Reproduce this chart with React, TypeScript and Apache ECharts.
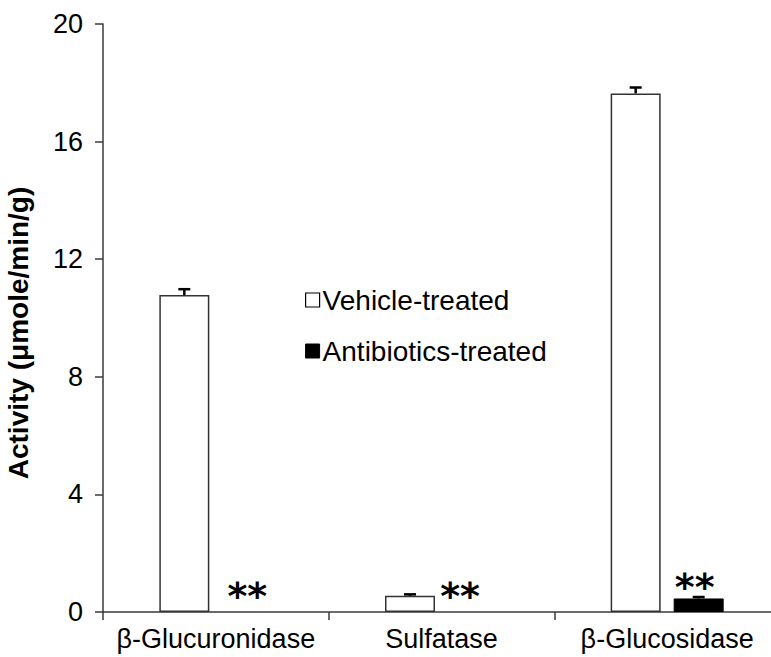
import React, { useEffect, useRef } from "react";
import * as echarts from "echarts";

const categories = ["β-Glucuronidase", "Sulfatase", "β-Glucosidase"];
const vehicleValues = [10.78, 0.55, 17.64];
const vehicleErrors = [0.2, 0.05, 0.2];
const antibioticValues = [0, 0, 0.46];
const antibioticErrors = [0, 0, 0.05];
const significance = ["**", "**", "**"];
const yTicks = [0, 4, 8, 12, 16, 20];

const FONT = "'Liberation Sans', Arial, sans-serif";
const BAR_W = 50;
const BAR_GAP = 13;

function errorSeries(name: string, values: number[], errors: number[], side: number) {
  return {
    type: "custom",
    name: name + "-err",
    z: 5,
    silent: true,
    data: values.map((v, i) => [i, v, v + errors[i]]),
    renderItem: (params: any, api: any) => {
      const idx = api.value(0);
      const lo = api.coord([idx, api.value(1)]);
      const hi = api.coord([idx, api.value(2)]);
      const x = lo[0] + side * (BAR_W + BAR_GAP) / 2;
      if (Math.abs(hi[1] - lo[1]) < 0.5) return { type: "group", children: [] };
      const st = { stroke: "#000", lineWidth: 2.5 };
      return {
        type: "group",
        children: [
          { type: "line", shape: { x1: x, y1: lo[1], x2: x, y2: hi[1] }, style: st },
          { type: "line", shape: { x1: x - 6, y1: hi[1], x2: x + 6, y2: hi[1] }, style: st },
        ],
      };
    },
  };
}

export default function App() {
  const ref = useRef<HTMLDivElement>(null);
  useEffect(() => {
    if (!ref.current) return;
    const chart = echarts.init(ref.current, undefined, { renderer: "svg" });
    chart.setOption({
      animation: false,
      backgroundColor: "#fff",
      textStyle: { fontFamily: FONT },
      grid: { left: 103, right: -9, top: 24, bottom: 45, containLabel: false, outerBoundsMode: "none" },
      legend: {
        orient: "vertical",
        left: 300,
        top: 281,
        itemWidth: 14,
        itemHeight: 14,
        itemGap: 23,
        icon: "rect",
        textStyle: { fontFamily: FONT, fontSize: 28, color: "#000", padding: [0, 0, 0, -2] },
        data: [
          { name: "Vehicle-treated", itemStyle: { color: "#fff", borderColor: "#000", borderWidth: 1.2 } },
          { name: "Antibiotics-treated", itemStyle: { color: "#000", borderColor: "#000", borderWidth: 1 } },
        ],
      },
      xAxis: {
        type: "category",
        data: categories,
        axisLine: { lineStyle: { color: "#3a3a3a", width: 1.5 } },
        axisTick: { show: true, length: 8, lineStyle: { color: "#3a3a3a", width: 1.5 } },
        axisLabel: { fontFamily: FONT, fontSize: 27, color: "#000", margin: 13, interval: 0 },
      },
      yAxis: {
        type: "value",
        min: 0,
        max: 20,
        interval: 4,
        splitLine: { show: false },
        axisLine: { show: true, lineStyle: { color: "#3a3a3a", width: 1.5 } },
        axisTick: { show: true, length: 8, lineStyle: { color: "#3a3a3a", width: 1.5 } },
        axisLabel: {
          fontFamily: FONT,
          fontSize: 27,
          color: "#000",
          margin: 20,
          formatter: (v: number) => (yTicks.includes(v) ? String(v) : ""),
        },
        name: "Activity (μmole/min/g)",
        nameLocation: "middle",
        nameGap: 71,
        nameTextStyle: { fontFamily: FONT, fontSize: 28, fontWeight: "bold", color: "#000", padding: [0, 30, 0, 0] },
      },
      series: [
        {
          type: "bar",
          name: "Vehicle-treated",
          data: vehicleValues,
          barWidth: BAR_W,
          barGap: (BAR_GAP / BAR_W) * 100 + "%",
          itemStyle: { color: "#fff", borderColor: "#333", borderWidth: 1.5 },
        },
        {
          type: "bar",
          name: "Antibiotics-treated",
          data: antibioticValues.map((v, i) => ({
            value: v,
            itemStyle: v === 0 ? { borderWidth: 0, color: "rgba(0,0,0,0)" } : undefined,
            label: {
              show: true,
              formatter: significance[i],
              position: "top",
              distance: 0,
              offset: i === 1 ? [-13, -6] : i === 2 ? [-4, -1] : [0, -6],
            },
          })),
          barWidth: BAR_W,
          itemStyle: { color: "#000", borderColor: "#000", borderWidth: 1 },
          label: { fontFamily: "'DejaVu Sans', sans-serif", fontSize: 38, fontWeight: "bold", color: "#000", lineHeight: 20, verticalAlign: "bottom" },
        },
        errorSeries("Vehicle-treated", vehicleValues, vehicleErrors, -1),
        errorSeries("Antibiotics-treated", antibioticValues, antibioticErrors, 1),
      ],
    });
    return () => chart.dispose();
  }, []);
  return <div ref={ref} style={{ position: "absolute", left: 0, top: 0, width: 771, height: 657 }} />;
}
